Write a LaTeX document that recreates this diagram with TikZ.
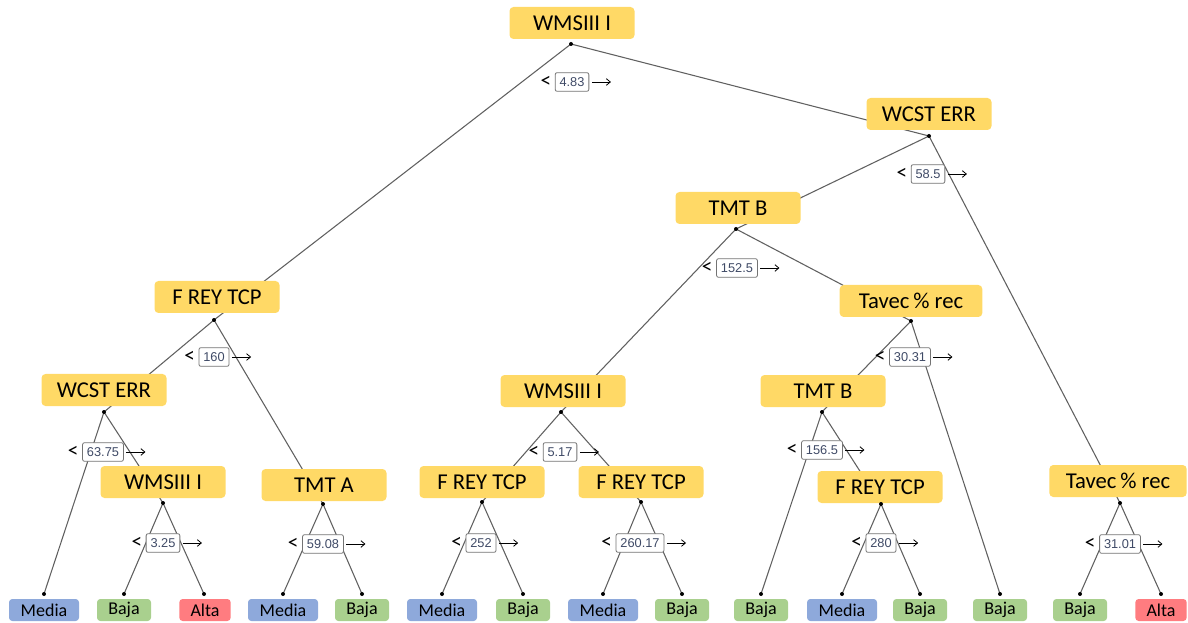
\documentclass[tikz,border=0pt]{standalone}
\usepackage{fontspec}
\setmainfont{Carlito}
\newfontfamily\valfont{Liberation Sans}
\usetikzlibrary{arrows.meta}
\definecolor{ybox}{HTML}{FFD966}
\definecolor{bleaf}{HTML}{8EA9DB}
\definecolor{gleaf}{HTML}{A9D08E}
\definecolor{rleaf}{HTML}{FF7C80}
\definecolor{edgec}{HTML}{606060}
\definecolor{valc}{HTML}{3F4A66}
\newcommand\splitlab[3]{%
  \node[valbox] (#1) at (#2) {#3};
  \node[ltsign] (#1l) at ([xshift=-2.5pt]#1.west) {<};
  \draw[splitarrow] ([xshift=2pt]#1.east) -- ++(19,0);
}
\begin{document}
\begin{tikzpicture}[x=0.75pt,y=-0.75pt,
  inbox/.style={fill=ybox, rounded corners=3pt, minimum width=93.75pt, minimum height=24pt,
    font=\fontsize{17}{20}\selectfont, inner sep=0pt},
  leafbox/.style={rounded corners=2.5pt, minimum height=16.5pt, inner xsep=4pt, inner ysep=0pt,
    font=\fontsize{13.5}{15}\selectfont},
  media/.style={leafbox, fill=bleaf, minimum width=52.5pt},
  baja/.style={leafbox, fill=gleaf, minimum width=40.5pt},
  alta/.style={leafbox, fill=rleaf, minimum width=38.5pt},
  edge/.style={draw=edgec, line width=0.8pt},
  valbox/.style={draw=black!55, fill=white, rounded corners=1.5pt, line width=0.6pt,
    font=\valfont\fontsize{9.6}{10}\selectfont, text=valc, inner xsep=3.3pt, inner ysep=0pt,
    minimum height=14pt},
  ltsign/.style={anchor=east, inner sep=0pt, font=\fontsize{16}{17}\selectfont},
  splitarrow/.style={-{Straight Barb[length=3pt,width=5pt]}, line width=0.6pt},
  dotmark/.style={fill=black}
]
\useasboundingbox (0,0) rectangle (1188,623);

% split points (dots)
\coordinate (d1) at (571,44);
\coordinate (d2) at (929,136);
\coordinate (d3) at (736,229);
\coordinate (d4) at (214,320);
\coordinate (d5) at (911,321);
\coordinate (d6) at (104,412);
\coordinate (d7) at (561,412);
\coordinate (d8) at (822,412);
\coordinate (d9) at (163,503);
\coordinate (d10) at (323,504);
\coordinate (d11) at (482,502);
\coordinate (d12) at (641,502);
\coordinate (d13) at (881,504);
\coordinate (d14) at (1120,503);
% leaf dots
\coordinate (l1) at (44,594);
\coordinate (l2) at (124,594);
\coordinate (l3) at (204,594);
\coordinate (l4) at (283,594);
\coordinate (l5) at (362,594);
\coordinate (l6) at (442,594);
\coordinate (l7) at (523,594);
\coordinate (l8) at (603,594);
\coordinate (l9) at (682,594);
\coordinate (l10) at (761,594);
\coordinate (l11) at (842,594);
\coordinate (l12) at (920,594);
\coordinate (l13) at (1000,594);
\coordinate (l14) at (1080,594);
\coordinate (l15) at (1161,594);

% edges
\draw[edge] (d1) -- (d4);
\draw[edge] (d1) -- (d2);
\draw[edge] (d2) -- (d3);
\draw[edge] (d2) -- (d14);
\draw[edge] (d3) -- (d7);
\draw[edge] (d3) -- (d5);
\draw[edge] (d5) -- (d8);
\draw[edge] (d5) -- (l13);
\draw[edge] (d8) -- (l10);
\draw[edge] (d8) -- (d13);
\draw[edge] (d13) -- (l11);
\draw[edge] (d13) -- (l12);
\draw[edge] (d7) -- (d11);
\draw[edge] (d7) -- (d12);
\draw[edge] (d11) -- (l6);
\draw[edge] (d11) -- (l7);
\draw[edge] (d12) -- (l8);
\draw[edge] (d12) -- (l9);
\draw[edge] (d4) -- (d6);
\draw[edge] (d4) -- (d10);
\draw[edge] (d6) -- (l1);
\draw[edge] (d6) -- (d9);
\draw[edge] (d9) -- (l2);
\draw[edge] (d9) -- (l3);
\draw[edge] (d10) -- (l4);
\draw[edge] (d10) -- (l5);
\draw[edge] (d14) -- (l14);
\draw[edge] (d14) -- (l15);

% internal nodes
\node[inbox] (n1) at (572,23) {WMSIII I};
\node[inbox] (n2) at (929,114) {WCST ERR};
\node[inbox] (n3) at (738,208) {TMT B};
\node[inbox] (n4) at (217,297) {F REY TCP};
\node[inbox, minimum width=107pt] (n5) at (911,301) {Tavec\,\% rec};
\node[inbox] (n6) at (104,390) {WCST ERR};
\node[inbox] (n7) at (563,391) {WMSIII I};
\node[inbox] (n8) at (823,391) {TMT B};
\node[inbox] (n9) at (163,482) {WMSIII I};
\node[inbox] (n10) at (324,485) {TMT A};
\node[inbox] (n11) at (482,482) {F REY TCP};
\node[inbox] (n12) at (641,482) {F REY TCP};
\node[inbox] (n13) at (880,487) {F REY TCP};
\node[inbox, minimum width=103pt] (n14) at (1118,481) {Tavec\,\% rec};

% leaves
\node[media] (f1) at (44,610) {Media};
\node[baja] (f2) at (124,610) {Baja};
\node[alta] (f3) at (205,610) {Alta};
\node[media] (f4) at (283,610) {Media};
\node[baja] (f5) at (362,610) {Baja};
\node[media] (f6) at (442,610) {Media};
\node[baja] (f7) at (523,610) {Baja};
\node[media] (f8) at (603,610) {Media};
\node[baja] (f9) at (682,610) {Baja};
\node[baja] (f10) at (761,610) {Baja};
\node[media] (f11) at (842,610) {Media};
\node[baja] (f12) at (920,610) {Baja};
\node[baja] (f13) at (1000,610) {Baja};
\node[baja] (f14) at (1080,610) {Baja};
\node[alta] (f15) at (1161,610) {Alta};

% dots
\foreach \c in {d1,d2,d3,d4,d5,d6,d7,d8,d9,d10,d11,d12,d13,d14,
                l1,l2,l3,l4,l5,l6,l7,l8,l9,l10,l11,l12,l13,l14,l15}
  \fill[dotmark] (\c) circle[radius=1.5pt];

% split labels
\splitlab{v1}{572,82}{4.83}
\splitlab{v2}{928,174}{58.5}
\splitlab{v3}{737,268}{152.5}
\splitlab{v4}{214,357}{160}
\splitlab{v5}{910,357}{30.31}
\splitlab{v6}{103,452}{63.75}
\splitlab{v7}{560,452}{5.17}
\splitlab{v8}{822,450}{156.5}
\splitlab{v9}{163,543}{3.25}
\splitlab{v10}{323,544}{59.08}
\splitlab{v11}{481,543}{252}
\splitlab{v12}{640,543}{260.17}
\splitlab{v13}{881,543}{280}
\splitlab{v14}{1120,544}{31.01}
\end{tikzpicture}
\end{document}
